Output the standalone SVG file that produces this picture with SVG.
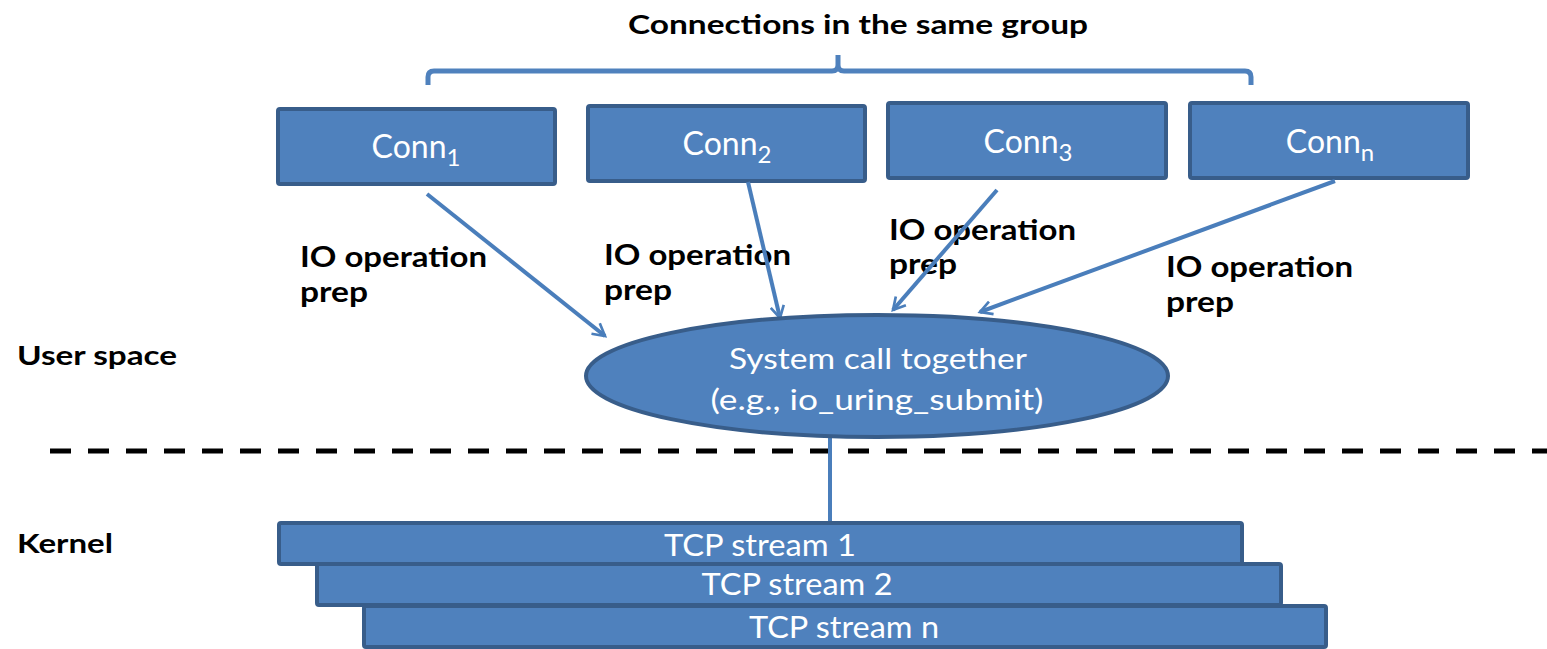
<svg xmlns="http://www.w3.org/2000/svg" width="1547" height="649" viewBox="0 0 1547 649">
  <style>
    .box { fill: #4F81BD; stroke: #385D8A; stroke-width: 4; }
    .wt { font-family: Lato, "Open Sans", sans-serif; fill: #FFFFFF; text-anchor: middle; }
    .bk { font-family: Lato, "Open Sans", sans-serif; font-weight: bold; fill: #000000; }
    .conn { font-size: 32px; }
    .sub { font-size: 24px; }
    .line { fill: none; stroke: #4A7EBB; stroke-width: 4; }
  </style>
  <defs>
    <marker id="open-arrow" viewBox="0 0 12 12" refX="10" refY="6" markerWidth="4" markerHeight="4" markerUnits="strokeWidth" orient="auto">
      <path d="M1,1 L10,6 L1,11" fill="none" stroke="#4A7EBB" stroke-width="2"/>
    </marker>
  </defs>

  <rect width="1547" height="649" fill="#FFFFFF"/>

  <!-- group heading and brace -->
  <g id="group-label">
    <text class="bk" x="858" y="34" font-size="27" text-anchor="middle" textLength="460" lengthAdjust="spacingAndGlyphs">Connections in the same group</text>
    <path d="M428,85 L428,77 Q428,71 434,71 L832,71 Q838,71 838,65 L838,55 M838,65 Q838,71 844,71 L1245,71 Q1251,71 1251,77 L1251,85" fill="none" stroke="#4F81BD" stroke-width="5"/>
  </g>

  <!-- connection boxes -->
  <g id="conn1">
    <rect class="box" x="278" y="109" width="277" height="75" rx="2"/>
    <text class="wt conn" x="416" y="158">Conn<tspan class="sub" dy="8">1</tspan></text>
  </g>
  <g id="conn2">
    <rect class="box" x="588" y="106" width="277" height="75" rx="2"/>
    <text class="wt conn" x="727" y="155">Conn<tspan class="sub" dy="8">2</tspan></text>
  </g>
  <g id="conn3">
    <rect class="box" x="888" y="103" width="278" height="75" rx="2"/>
    <text class="wt conn" x="1028" y="153">Conn<tspan class="sub" dy="8">3</tspan></text>
  </g>
  <g id="connn">
    <rect class="box" x="1190" y="103" width="278" height="75" rx="2"/>
    <text class="wt conn" x="1330" y="153">Conn<tspan class="sub" dy="8">n</tspan></text>
  </g>

  <!-- arrow labels -->
  <g id="label-prep1">
    <text class="bk" x="300" y="267" font-size="29" textLength="187" lengthAdjust="spacingAndGlyphs">IO operation</text>
    <text class="bk" x="300" y="302" font-size="29" textLength="68" lengthAdjust="spacingAndGlyphs">prep</text>
  </g>
  <g id="label-prep2">
    <text class="bk" x="604" y="265" font-size="29" textLength="187" lengthAdjust="spacingAndGlyphs">IO operation</text>
    <text class="bk" x="604" y="300" font-size="29" textLength="68" lengthAdjust="spacingAndGlyphs">prep</text>
  </g>
  <g id="label-prep3">
    <text class="bk" x="889" y="240" font-size="29" textLength="187" lengthAdjust="spacingAndGlyphs">IO operation</text>
    <text class="bk" x="889" y="274" font-size="29" textLength="68" lengthAdjust="spacingAndGlyphs">prep</text>
  </g>
  <g id="label-prep4">
    <text class="bk" x="1166" y="277" font-size="29" textLength="187" lengthAdjust="spacingAndGlyphs">IO operation</text>
    <text class="bk" x="1166" y="312" font-size="29" textLength="68" lengthAdjust="spacingAndGlyphs">prep</text>
  </g>

  <!-- space labels -->
  <g id="user-space">
    <text class="bk" x="17" y="365" font-size="26" textLength="160" lengthAdjust="spacingAndGlyphs">User space</text>
  </g>
  <g id="kernel">
    <text class="bk" x="17" y="553" font-size="26" textLength="96" lengthAdjust="spacingAndGlyphs">Kernel</text>
  </g>

  <!-- user/kernel boundary -->
  <g id="boundary">
    <line x1="50" y1="451" x2="1547" y2="451" stroke="#000000" stroke-width="5" stroke-dasharray="21 17"/>
  </g>

  <!-- connectors -->
  <g id="connectors">
    <line class="line" x1="427" y1="194" x2="605" y2="336" marker-end="url(#open-arrow)"/>
    <line class="line" x1="748" y1="182" x2="780" y2="318" marker-end="url(#open-arrow)"/>
    <line class="line" x1="997" y1="190" x2="893" y2="310" marker-end="url(#open-arrow)"/>
    <line class="line" x1="1335" y1="181" x2="980" y2="312" marker-end="url(#open-arrow)"/>
    <line class="line" x1="830" y1="437" x2="830" y2="523"/>
  </g>

  <!-- system call -->
  <g id="syscall">
    <ellipse class="box" cx="877" cy="376" rx="291" ry="61"/>
    <text class="wt" x="878" y="369" font-size="29" textLength="298" lengthAdjust="spacingAndGlyphs">System call together</text>
    <text class="wt" x="877" y="410" font-size="29" textLength="333" lengthAdjust="spacingAndGlyphs">(e.g., io_uring_submit)</text>
  </g>

  <!-- kernel TCP streams -->
  <g id="tcp1">
    <rect class="box" x="279" y="523" width="963" height="41" rx="2"/>
    <text class="wt" x="760" y="556" font-size="30" textLength="192" lengthAdjust="spacingAndGlyphs">TCP stream 1</text>
  </g>
  <g id="tcp2">
    <rect class="box" x="317" y="564" width="964" height="41" rx="2"/>
    <text class="wt" x="797" y="595" font-size="30" textLength="191" lengthAdjust="spacingAndGlyphs">TCP stream 2</text>
  </g>
  <g id="tcpn">
    <rect class="box" x="364" y="606" width="962" height="41" rx="2"/>
    <text class="wt" x="844" y="638" font-size="30" textLength="190" lengthAdjust="spacingAndGlyphs">TCP stream n</text>
  </g>
</svg>
